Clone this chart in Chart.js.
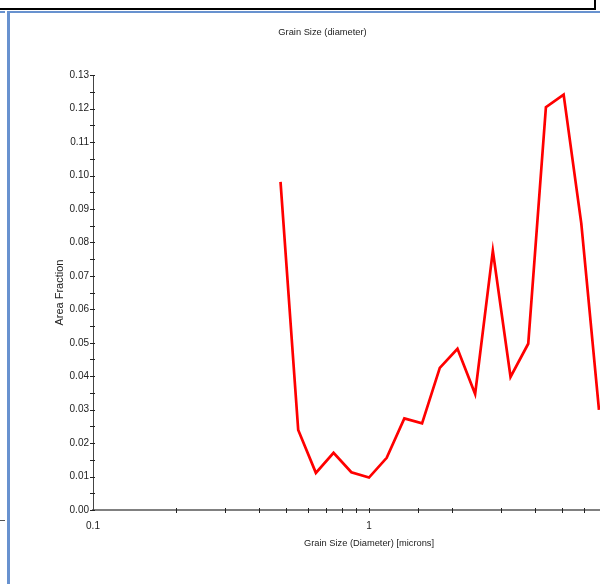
<!DOCTYPE html>
<html>
<head>
<meta charset="utf-8">
<script src="https://cdn.jsdelivr.net/npm/chart.js@4.4.1/dist/chart.umd.min.js"></script>
<style>
  html, body { margin: 0; padding: 0; background: #fff; overflow: hidden; width: 600px; height: 584px; }
  #wrap { position: absolute; left: 0; top: 0; width: 696px; height: 584px; }
  .ln { position: absolute; }
</style>
</head>
<body>
<div id="wrap"><canvas id="c" width="696" height="584"></canvas></div>
<div class="ln" style="left:0;top:8px;width:596px;height:2px;background:#000"></div>
<div class="ln" style="left:594px;top:0;width:2px;height:10px;background:#000"></div>
<div class="ln" style="left:0;top:11px;width:5px;height:2px;background:#6892cf"></div>
<div class="ln" style="left:7px;top:11px;width:600px;height:2px;background:#6892cf"></div>
<div class="ln" style="left:7px;top:11px;width:3px;height:580px;background:#6892cf"></div>
<div class="ln" style="left:0;top:520px;width:5px;height:1px;background:#555"></div>
<script>
// Data
const grainSize = [0.478, 0.554, 0.642, 0.744, 0.863, 1.0, 1.159, 1.343, 1.557, 1.805,
                   2.092, 2.424, 2.810, 3.257, 3.775, 4.375, 5.072, 5.877, 6.812];
const areaFraction = [0.0981, 0.0239, 0.0111, 0.0171, 0.0113, 0.0097, 0.0156, 0.0274, 0.0259, 0.0425,
                      0.0482, 0.0347, 0.0775, 0.0398, 0.0497, 0.1204, 0.1242, 0.0857, 0.0299];
const chartTitle = 'Grain Size (diameter)';
const xTitle = 'Grain Size (Diameter) [microns]';
const yTitle = 'Area Fraction';

const points = grainSize.map((g, i) => ({ x: g, y: areaFraction[i] }));

const tickMarks = {
  id: 'tickMarks',
  afterDraw(chart) {
    const { ctx, chartArea, scales } = chart;
    ctx.save();
    ctx.strokeStyle = '#222';
    ctx.lineWidth = 1;
    const ys = scales.y;
    ys.ticks.forEach(t => {
      const py = Math.round(ys.getPixelForValue(t.value)) + 0.5;
      ctx.beginPath();
      ctx.moveTo(chartArea.left - 3, py);
      ctx.lineTo(chartArea.left + 2, py);
      ctx.stroke();
    });
    const xs = scales.x;
    xs.ticks.forEach(t => {
      const px = Math.round(xs.getPixelForValue(t.value)) + 0.5;
      if (px < chartArea.left + 2) return;
      ctx.beginPath();
      ctx.moveTo(px, chartArea.bottom - 2);
      ctx.lineTo(px, chartArea.bottom + 3);
      ctx.stroke();
    });
    ctx.restore();
  }
};

new Chart(document.getElementById('c'), {
  type: 'line',
  data: {
    datasets: [{
      data: points,
      borderColor: '#ff0000',
      borderWidth: 2.7,
      pointRadius: 0,
      tension: 0,
      fill: false
    }]
  },
  options: {
    responsive: false,
    animation: false,
    devicePixelRatio: 1,
    layout: { padding: { left: 0, right: 51, top: 0, bottom: 0 } },
    plugins: {
      legend: { display: false },
      tooltip: { enabled: false },
      title: {
        display: true,
        text: chartTitle,
        color: '#222',
        font: { family: 'Liberation Sans', size: 9.3, weight: 'normal' },
        padding: { top: 26.5, bottom: 37.5 }
      }
    },
    scales: {
      x: {
        type: 'logarithmic',
        min: 0.1,
        max: 10,
        grid: { display: false, drawTicks: false },
        border: { display: true, color: '#808080', width: 2 },
        ticks: {
          autoSkip: false,
          maxRotation: 0,
          padding: 10,
          color: '#222',
          font: { family: 'Liberation Sans', size: 10 },
          callback: function (v) {
            const l = Math.log10(v);
            if (Math.abs(l - Math.round(l)) < 1e-9) return v < 1 ? v.toFixed(1) : String(Math.round(v));
            return '';
          }
        },
        title: {
          display: true,
          text: xTitle,
          color: '#222',
          font: { family: 'Liberation Sans', size: 9.3 },
          padding: { top: 0, bottom: 35.4 }
        },
        afterFit: s => { s.height = 74; }
      },
      y: {
        min: 0,
        max: 0.13,
        grid: { display: false, drawTicks: false },
        border: { display: true, color: '#444', width: 1 },
        ticks: {
          stepSize: 0.005,
          autoSkip: false,
          padding: 4,
          color: '#222',
          font: { family: 'Liberation Sans', size: 10 },
          callback: function (v) {
            const k = v * 100;
            if (Math.abs(k - Math.round(k)) < 1e-6) return (Math.round(k) / 100).toFixed(2);
            return '';
          }
        },
        title: {
          display: true,
          text: yTitle,
          color: '#222',
          font: { family: 'Liberation Sans', size: 11 },
          padding: { top: 53, bottom: 0 }
        },
        afterFit: s => { s.width = 93; }
      }
    }
  },
  plugins: [tickMarks]
});
</script>
</body>
</html>
